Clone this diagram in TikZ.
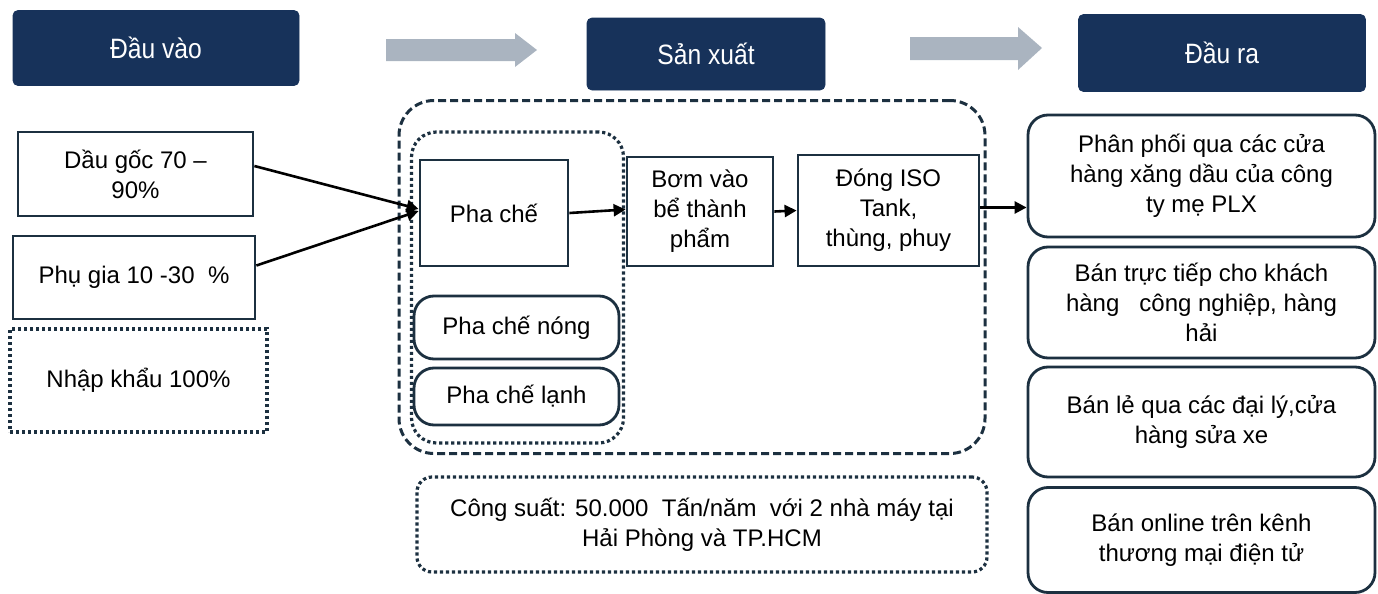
\documentclass[tikz,border=0pt]{standalone}
\usepackage{fontspec}
\setmainfont{Liberation Sans}
\newfontfamily\headfont[FakeStretch=0.88]{Liberation Sans}
\usetikzlibrary{arrows.meta}
\definecolor{navy}{RGB}{23,50,90}
\definecolor{edge}{RGB}{28,48,64}
\definecolor{grayarrow}{RGB}{170,180,192}
\begin{document}
\begin{tikzpicture}[x=0.5pt,y=-0.5pt,
  sz/.style 2 args={minimum width=#1*0.5pt, minimum height=#2*0.5pt},
  header/.style={fill=navy, draw=navy, rounded corners=2.5pt, text=white,
    font=\headfont\fontsize{14}{16}\selectfont, inner sep=0pt},
  plainbox/.style={draw=edge, line width=1.4pt, fill=white, align=center,
    font=\fontsize{12}{15}\selectfont, inner sep=0pt},
  roundbox/.style={plainbox, rounded corners=10pt},
  dotframe/.style={draw=edge, line width=1.6pt, dash pattern=on 1.6pt off 1.4pt},
  dashframe/.style={draw=edge, line width=1.5pt, dash pattern=on 4pt off 2pt},
  conn/.style={draw=black, line width=1.3pt, -{Triangle[length=6pt,width=6pt]}},
  bigarrow/.style={fill=grayarrow},
]
\useasboundingbox (0,0) rectangle (1378,594);

% headers
\node[header, sz={286}{75}] (hin) at (156,48) {Đầu vào};
\node[header, sz={238}{72}] (hprod) at (706,54) {Sản xuất};
\node[header, sz={287}{77}] (hout) at (1222,53) {Đầu ra};

% gray arrows
\fill[bigarrow] (386,39) -- (515,39) -- (515,33) -- (537,50) -- (515,67) -- (515,61) -- (386,61) -- cycle;
\fill[bigarrow] (910,37) -- (1018,37) -- (1018,27) -- (1042,48) -- (1018,70) -- (1018,60) -- (910,60) -- cycle;

% inputs
\node[plainbox, sz={235}{84}] (din1) at (135.5,174) {Dầu gốc 70 –\\90\%};
\node[plainbox, sz={242}{83}] (din2) at (134,277.5) {Phụ gia 10 -30 \ \%};
\node[plainbox, dotframe, sz={257}{103}] (din3) at (138.5,380.5) {Nhập khẩu 100\%};

% production frames
\node[dashframe, rounded corners=17.5pt, sz={586}{353}] (prodarea) at (692,277) {};
\node[dotframe, rounded corners=12.5pt, sz={212}{311}] (blendarea) at (517.5,287.5) {};

% production steps
\node[plainbox, sz={148}{106}] (pc) at (494,213) {Pha chế};
\node[plainbox, sz={146}{109}] (bom) at (700,211.5) {Bơm vào\\bể thành\\phẩm};
\node[plainbox, sz={181}{111}] (dong) at (888.5,210.5) {Đóng ISO\\Tank,\\thùng, phuy};
\node[roundbox, sz={205}{63}] (nong) at (516.5,327.5) {Pha chế nóng};
\node[roundbox, sz={205}{57}] (lanh) at (516.5,396.5) {Pha chế lạnh};

% capacity
\node[plainbox, dotframe, rounded corners=7.5pt, sz={570}{95}] (cap) at (702,524.5)
  {Công suất: 50.000 \ Tấn/năm \ với 2 nhà máy tại\\Hải Phòng và TP.HCM};

% outputs
\node[roundbox, sz={347}{122}] (out1) at (1201.5,176) {Phân phối qua các cửa\\hàng xăng dầu của công\\ty mẹ PLX};
\node[roundbox, sz={347}{111}] (out2) at (1201.5,302.5) {Bán trực tiếp cho khách\\hàng \ \ công nghiệp, hàng\\hải};
\node[roundbox, sz={347}{110}] (out3) at (1201.5,422) {Bán lẻ qua các đại lý,cửa\\hàng sửa xe};
\node[roundbox, sz={347}{105}] (out4) at (1201.5,540) {Bán online trên kênh\\thương mại điện tử};

% connectors
\draw[conn] ([yshift=4pt]din1.east) -- ([yshift=2pt]pc.west);
\draw[conn] ([yshift=6pt]din2.east) -- ([yshift=1pt]pc.west);
\draw[conn] (pc.east) -- ([yshift=1pt]bom.west);
\draw[conn] (bom.east) -- (dong.west);
\draw[conn] ([yshift=1.5pt]dong.east) -- ([yshift=1.5pt]dong.east -| out1.west);
\end{tikzpicture}
\end{document}
